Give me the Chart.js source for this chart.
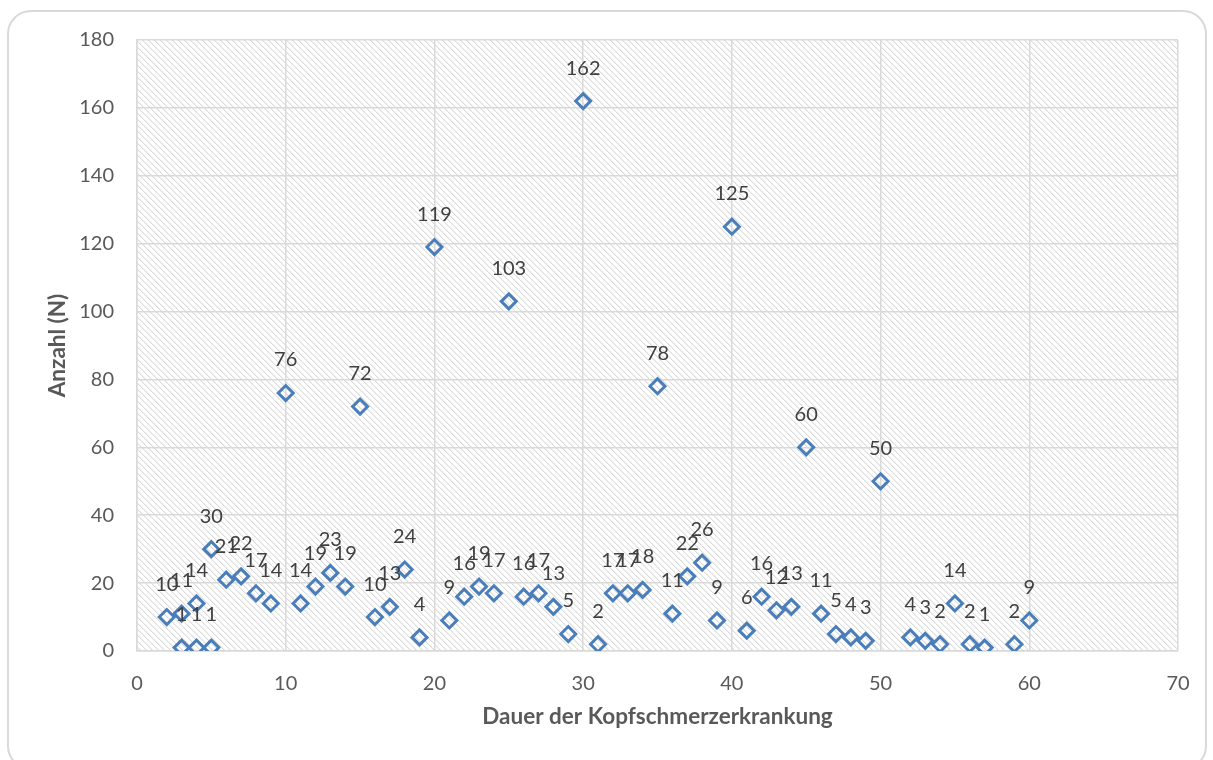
<!DOCTYPE html>
<html>
<head>
<meta charset="utf-8">
<script src="https://cdn.jsdelivr.net/npm/chart.js@4.4.0/dist/chart.umd.min.js"></script>
<style>
  html, body { margin: 0; padding: 0; background: #fff; }
  #frame { position: absolute; left: 7px; top: 10px; width: 1200px; height: 760px; border: 2px solid #d9d9d9; border-radius: 24px; box-sizing: border-box; }
  #wrap { position: absolute; left: 0; top: 0; width: 1213px; height: 760px; }
</style>
</head>
<body>
<div id="frame"></div>
<div id="wrap"><canvas id="c" width="1213" height="760"></canvas></div>
<script>
// Dauer der Kopfschmerzerkrankung (x) and Anzahl (N) (y)
const dauer  = [2, 3, 3, 4, 4, 5, 5, 6, 7, 8, 9, 10, 11, 12, 13, 14, 15, 16, 17, 18, 19, 20,
                21, 22, 23, 24, 25, 26, 27, 28, 29, 30, 31, 32, 33, 34, 35, 36, 37, 38, 39, 40,
                41, 42, 43, 44, 45, 46, 47, 48, 49, 50, 52, 53, 54, 55, 56, 57, 59, 60];
const anzahl = [10, 11, 1, 14, 1, 30, 1, 21, 22, 17, 14, 76, 14, 19, 23, 19, 72, 10, 13, 24, 4, 119,
                9, 16, 19, 17, 103, 16, 17, 13, 5, 162, 2, 17, 17, 18, 78, 11, 22, 26, 9, 125,
                6, 16, 12, 13, 60, 11, 5, 4, 3, 50, 4, 3, 2, 14, 2, 1, 2, 9];
const xTicks = [0, 10, 20, 30, 40, 50, 60, 70];
const yTicks = [0, 20, 40, 60, 80, 100, 120, 140, 160, 180];

const points = dauer.map((x, i) => ({ x: x, y: anzahl[i] }));

const FONT = 'Lato, "Open Sans", sans-serif';

// hatch pattern for plot area
function makePattern(ctx) {
  const t = document.createElement('canvas');
  t.width = 6; t.height = 6;
  const g = t.getContext('2d');
  g.fillStyle = '#ffffff'; g.fillRect(0, 0, 6, 6);
  for (let i = 0; i < 6; i++) {
    g.fillStyle = '#dcdcdc'; g.fillRect(i, i, 1, 1);
    g.fillStyle = '#f0f0f0'; g.fillRect((i + 1) % 6, i, 1, 1);
  }
  return ctx.createPattern(t, 'repeat');
}

const hatchPlugin = {
  id: 'hatch',
  beforeDraw(chart) {
    const { ctx, chartArea: a } = chart;
    ctx.save();
    ctx.fillStyle = makePattern(ctx);
    ctx.fillRect(a.left, a.top, a.right - a.left, a.bottom - a.top);
    ctx.restore();
  }
};

const labelPlugin = {
  id: 'pointLabels',
  afterDatasetsDraw(chart) {
    const { ctx } = chart;
    const meta = chart.getDatasetMeta(0);
    ctx.save();
    ctx.font = '20px ' + FONT;
    ctx.fillStyle = '#404040';
    ctx.textAlign = 'center';
    ctx.textBaseline = 'middle';
    meta.data.forEach((el, i) => {
      ctx.fillText(String(anzahl[i]), el.x, el.y - 33);
    });
    ctx.restore();
  }
};

new Chart(document.getElementById('c'), {
  type: 'scatter',
  data: {
    datasets: [{
      data: points,
      pointStyle: 'rectRot',
      pointRadius: 7.5,
      pointHoverRadius: 7.5,
      borderWidth: 3,
      borderColor: '#4a7ebb',
      backgroundColor: 'rgba(0,0,0,0)'
    }]
  },
  options: {
    responsive: false,
    animation: false,
    layout: { padding: { left: 40, right: 35, top: 40, bottom: 30 } },
    plugins: { legend: { display: false }, tooltip: { enabled: false } },
    scales: {
      x: {
        type: 'linear',
        min: 0, max: 70,
        afterBuildTicks: s => { s.ticks = xTicks.map(v => ({ value: v })); },
        afterFit: s => { s.height = 79; },
        grid: { color: '#d9d9d9', lineWidth: 1.5, drawTicks: false },
        border: { color: '#d9d9d9', width: 1.5 },
        ticks: { color: '#595959', font: { family: FONT, size: 20 }, padding: 21 },
        title: { display: true, text: 'Dauer der Kopfschmerzerkrankung', color: '#595959',
                 font: { family: FONT, size: 22.5, weight: 'bold', lineHeight: 1.2 },
                 padding: { top: 0, bottom: 0 } }
      },
      y: {
        type: 'linear',
        min: 0, max: 180,
        afterBuildTicks: s => { s.ticks = yTicks.map(v => ({ value: v })); },
        afterFit: s => { s.width = 97; },
        grid: { color: '#d9d9d9', lineWidth: 1.5, drawTicks: false },
        border: { color: '#d9d9d9', width: 1.5 },
        ticks: { color: '#595959', font: { family: FONT, size: 20 }, padding: 23 },
        title: { display: true, text: 'Anzahl (N)', color: '#595959',
                 font: { family: FONT, size: 22.5, weight: 'bold', lineHeight: 1.2 },
                 padding: { top: 4, bottom: 0 } }
      }
    }
  },
  plugins: [hatchPlugin, labelPlugin]
});
</script>
</body>
</html>
